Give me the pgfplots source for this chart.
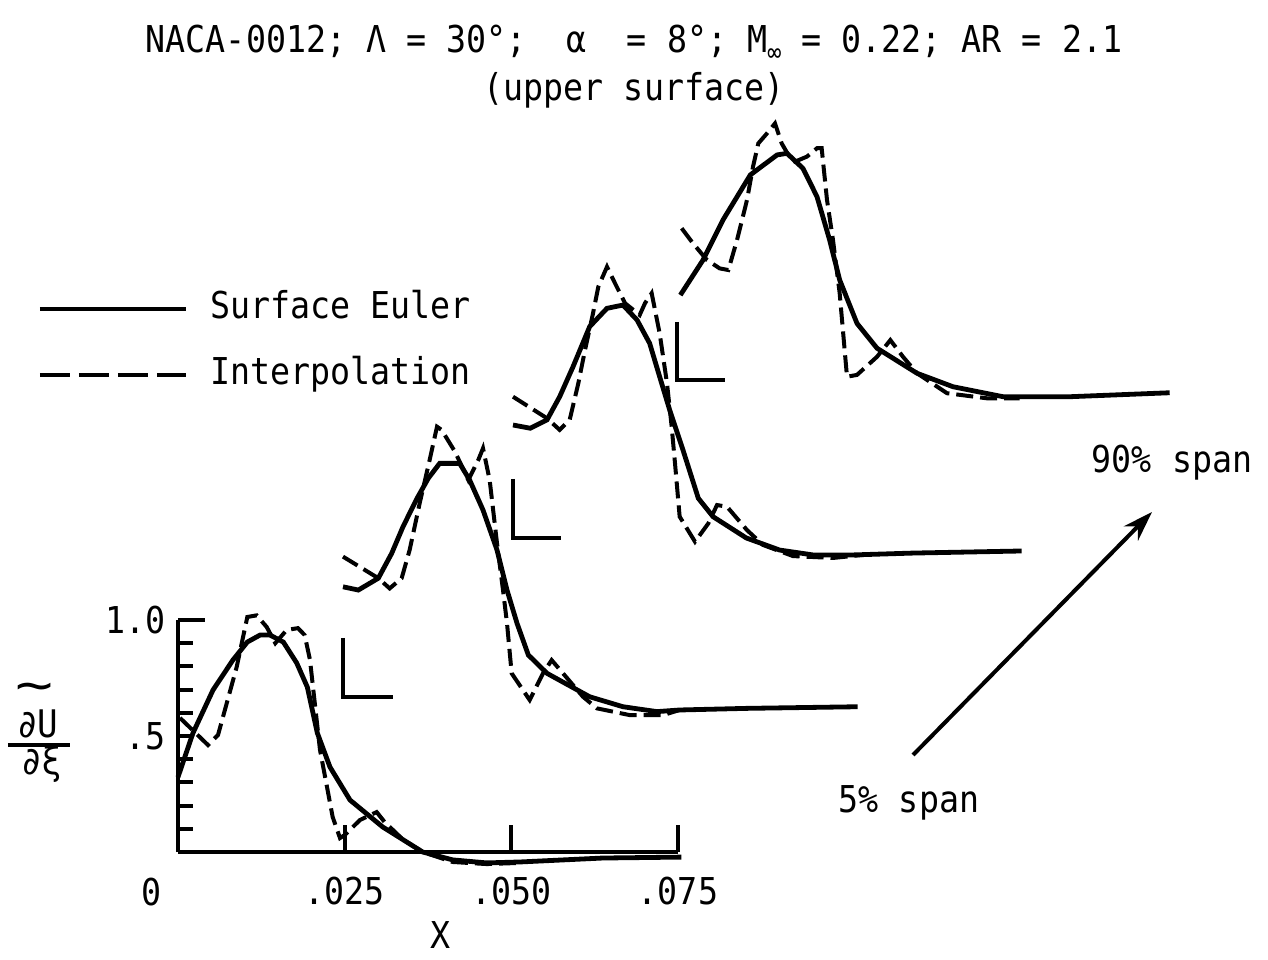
\documentclass[border=0pt]{standalone}
\usepackage{fontspec}
\setmainfont{DejaVu Sans Mono}[FakeStretch=0.9]
\usepackage{pgfplots}
\pgfplotsset{compat=1.18}
\usetikzlibrary{arrows.meta}

\pgfplotstableread{
x y
0 0.323
0.00225 0.513
0.00525 0.698
0.00825 0.828
0.0104 0.905
0.0123 0.935
0.0138 0.935
0.0158 0.905
0.0178 0.815
0.0194 0.711
0.0209 0.513
0.0228 0.366
0.0258 0.224
0.0307 0.108
0.0367 0.0
0.0412 -0.034
0.0463 -0.047
0.0513 -0.043
0.0637 -0.026
0.0755 -0.022
}\eulerA
\pgfplotstableread{
x y
0.0003 0.578
0.0045 0.461
0.006 0.504
0.0088 0.797
0.0104 1.013
0.0118 1.02
0.0133 0.97
0.0146 0.90
0.0163 0.957
0.018 0.965
0.019 0.935
0.0198 0.828
0.0213 0.44
0.0232 0.151
0.0243 0.06
0.025 0.073
0.0273 0.138
0.0298 0.172
0.031 0.129
0.0338 0.052
0.0367 0.0
0.0412 -0.043
0.0463 -0.052
0.0513 -0.047
}\interpA
\pgfplotstableread{
x y
0 0.475
0.0023 0.461
0.0053 0.512
0.0073 0.619
0.0090 0.734
0.0111 0.856
0.0128 0.943
0.0145 1.007
0.0175 1.007
0.0190 0.935
0.0210 0.806
0.0231 0.634
0.0246 0.461
0.0261 0.318
0.0278 0.181
0.0306 0.102
0.0370 0.001
0.0420 -0.042
0.0471 -0.063
0.0505 -0.056
0.0606 -0.049
0.0772 -0.042
}\eulerB
\pgfplotstableread{
x y
0 0.605
0.0053 0.512
0.0070 0.468
0.0088 0.512
0.0100 0.634
0.0115 0.835
0.0130 1.022
0.0141 1.165
0.0148 1.151
0.0168 1.057
0.0188 0.935
0.0203 1.022
0.0210 1.072
0.0220 0.935
0.0231 0.663
0.0240 0.461
0.0246 0.318
0.0253 0.102
0.0280 -0.013
0.0300 0.102
0.0313 0.159
0.0330 0.102
0.0360 0.001
0.0381 -0.049
0.0430 -0.078
0.0480 -0.078
0.0505 -0.056
}\interpB
\pgfplotstableread{
x y
0 0.487
0.0026 0.473
0.0051 0.509
0.0070 0.609
0.0090 0.738
0.0115 0.911
0.0141 0.990
0.0165 1.004
0.0186 0.940
0.0205 0.839
0.0220 0.695
0.0235 0.552
0.0255 0.379
0.0278 0.171
0.0300 0.092
0.0350 0.0
0.0400 -0.052
0.0450 -0.073
0.0510 -0.073
0.0600 -0.065
0.0763 -0.056
}\eulerC
\pgfplotstableread{
x y
0 0.609
0.0051 0.516
0.0070 0.466
0.0085 0.509
0.0098 0.667
0.0108 0.810
0.0120 0.968
0.0128 1.083
0.0141 1.169
0.0153 1.098
0.0168 1.012
0.0190 0.961
0.0198 1.012
0.0208 1.055
0.0220 0.882
0.0231 0.667
0.0238 0.480
0.0243 0.322
0.0250 0.092
0.0273 -0.016
0.0293 0.063
0.0306 0.142
0.0321 0.135
0.0351 0.034
0.0375 -0.030
0.0420 -0.078
0.0480 -0.086
0.0525 -0.073
}\interpC
\pgfplotstableread{
x y
0.0005 0.366
0.0039 0.517
0.0069 0.690
0.0110 0.884
0.0150 0.970
0.0165 0.977
0.0189 0.912
0.0210 0.790
0.0229 0.603
0.0244 0.431
0.0270 0.244
0.0300 0.137
0.0360 0.029
0.0414 -0.029
0.0489 -0.072
0.0590 -0.072
0.0739 -0.055
}\eulerD
\pgfplotstableread{
x y
0.0007 0.654
0.0024 0.589
0.0045 0.517
0.0064 0.481
0.0077 0.474
0.0090 0.603
0.0105 0.776
0.0114 0.919
0.0122 1.020
0.0135 1.063
0.0147 1.106
0.0157 1.020
0.0167 0.970
0.0177 0.941
0.0195 0.963
0.0210 0.999
0.0217 0.999
0.0225 0.776
0.0234 0.603
0.0244 0.374
0.0255 0.014
0.0270 0.022
0.0300 0.100
0.0320 0.172
0.0339 0.100
0.0360 0.029
0.0405 -0.057
0.0465 -0.079
0.0514 -0.079
}\interpD

\begin{document}
\fontsize{18.5bp}{22bp}\selectfont
\begin{tikzpicture}[font=\fontsize{18.5bp}{22bp}\selectfont]
\pgfplotsset{
  wf/.style={width=250bp, height=116bp, scale only axis, xmin=0, xmax=0.075, ymin=0, ymax=1, clip=false},
  euler/.style={black, line width=2.4bp, solid},
  interp/.style={black, line width=2bp, dash pattern=on 8.5bp off 3.5bp},
}
% base axis (5% span)
\begin{axis}[wf, at={(0,0)}, anchor=south west,
  axis lines=left, axis line style={line width=2.2bp, -},
  every outer x axis line/.append style={-}, every outer y axis line/.append style={-},
  tick align=inside, tick style={line width=2bp, black},
  major tick length=13.5bp, minor tick length=7.5bp,
  scaled x ticks=false, scaled y ticks=false,
  xtick={0.025,0.05,0.075}, xticklabels={.025,.050,.075},
  xticklabel style={yshift=-6bp},
  ytick={1}, yticklabels={1.0},
  minor ytick={0.1,0.2,0.3,0.4,0.6,0.7,0.8,0.9},
  extra y ticks={0.5}, extra y tick labels={.5},
  extra y tick style={major tick length=7.5bp},
  legend image code/.code={\draw[#1] (0bp,0bp) -- (73bp,0bp);},
  legend style={draw=none, fill=none, inner sep=0pt, at={(axis cs:-0.02115,2.42)}, anchor=north west,
    nodes={inner sep=0pt, text height=14bp, text depth=4bp}, row sep=15bp, column sep=11bp},
  legend cell align=left,
]
\addlegendimage{black, line width=2.4bp}
\addlegendentry{Surface Euler}
\addlegendimage{black, line width=2.2bp, dash pattern=on 15bp off 4.5bp}
\addlegendentry{Interpolation}
\addplot[euler, forget plot] table {\eulerA};
\addplot[interp, forget plot] table {\interpA};
\end{axis}
% shifted curves
\begin{axis}[wf, hide axis, at={(82.5bp,77.5bp)}, anchor=south west]
\addplot[euler] table {\eulerB};
\addplot[interp] table {\interpB};
\draw[line width=2bp] (axis cs:0,0.255) -- (axis cs:0,0) -- (axis cs:0.0075,0);
\end{axis}
\begin{axis}[wf, hide axis, at={(167.5bp,157bp)}, anchor=south west]
\addplot[euler] table {\eulerC};
\addplot[interp] table {\interpC};
\draw[line width=2bp] (axis cs:0,0.255) -- (axis cs:0,0) -- (axis cs:0.0072,0);
\end{axis}
\begin{axis}[wf, hide axis, at={(249.5bp,236bp)}, anchor=south west]
\addplot[euler] table {\eulerD};
\addplot[interp] table {\interpD};
\draw[line width=2bp] (axis cs:0,0.25) -- (axis cs:0,0) -- (axis cs:0.0072,0);
\end{axis}
% annotations
\node at (228bp,404.5bp) {NACA-0012; Λ = 30°;\ \ α\ \ = 8°; M\raisebox{-0.45ex}{\fontsize{13bp}{15bp}\selectfont ∞} = 0.22; AR = 2.1};
\node at (228bp,381bp) {(upper surface)};
\node at (-13bp,-20bp) {0};
\node at (131.5bp,-41.5bp) {X};
\node at (497bp,194.5bp) {90\% span};
\node at (365.5bp,24.5bp) {5\% span};
\draw[line width=2bp, -{Stealth[length=15bp, width=10bp]}] (367.5bp,48.5bp) -- (487bp,170bp);
% y label: tilde over d U / d xi
\node[inner sep=0pt, text height=3bp, text depth=0pt, anchor=base] at (-71.5bp,75bp) {\scalebox{1.9}[1.3]{\textasciitilde}};
\node[inner sep=0pt, text height=12bp, text depth=0pt, anchor=base, font=\fontsize{19bp}{22bp}\selectfont] at (-70bp,57bp) {∂U};
\draw[line width=1.6bp] (-85bp,53.5bp) -- (-54bp,53.5bp);
\node[inner sep=0pt, text height=12bp, text depth=2bp, anchor=base, font=\fontsize{19bp}{22bp}\selectfont] at (-68bp,39bp) {∂ξ};
\pgfresetboundingbox
\path[use as bounding box] (-89bp,-54bp) rectangle (545bp,426bp);
\end{tikzpicture}
\end{document}
